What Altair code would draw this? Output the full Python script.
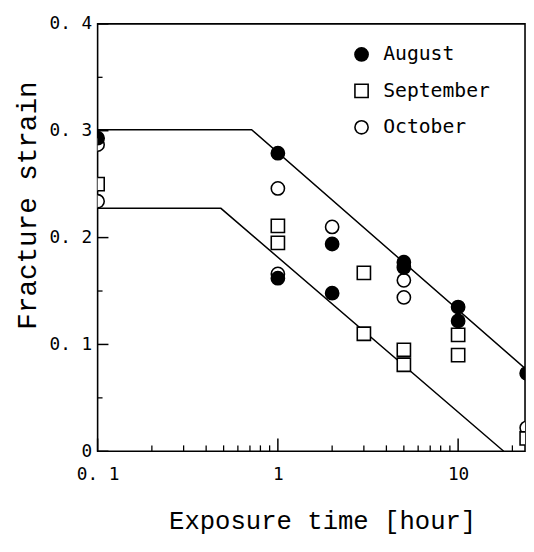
import altair as alt
import pandas as pd

# ---- data ----
aug_x = [0.1, 1, 1, 2, 2, 5, 5, 10, 10, 24]
aug_y = [0.293, 0.279, 0.162, 0.194, 0.148, 0.177, 0.172, 0.135, 0.122, 0.073]

sep_x = [0.1, 1, 1, 3, 3, 5, 5, 10, 10, 24]
sep_y = [0.250, 0.211, 0.195, 0.167, 0.110, 0.095, 0.081, 0.109, 0.090, 0.012]

oct_x = [0.1, 0.1, 1, 1, 2, 5, 5, 24]
oct_y = [0.287, 0.234, 0.246, 0.166, 0.210, 0.160, 0.144, 0.022]

months = ["August", "September", "October"]

upper_x = [0.1, 0.715, 30]
upper_y = [0.301, 0.301, 0.062]
lower_x = [0.1, 0.483, 17.9]
lower_y = [0.2274, 0.2274, 0.0]

x_tick_values = [0.1, 1, 10]
x_tick_labels = ["0. 1", "1", "10"]
x_minor = [0.2, 0.3, 0.4, 0.5, 0.6, 0.7, 0.8, 0.9, 2, 3, 4, 5, 6, 7, 8, 9, 20]
y_tick_values = [0, 0.1, 0.2, 0.3, 0.4]
y_tick_labels = ["0", "0. 1", "0. 2", "0. 3", "0. 4"]
y_minor = [0.05, 0.15, 0.25, 0.35]

X_DOMAIN = [0.1, 23.5]
Y_DOMAIN = [0, 0.4]
W, H = 434, 434

# ---- tables ----
rows = []
for m, xs, ys in [("October", oct_x, oct_y), ("September", sep_x, sep_y), ("August", aug_x, aug_y)]:
    for a, b in zip(xs, ys):
        rows.append({"t": a, "s": b, "month": m})
pts = pd.DataFrame(rows)

lines = pd.DataFrame(
    [{"t": a, "s": b, "g": "upper"} for a, b in zip(upper_x, upper_y)]
    + [{"t": a, "s": b, "g": "lower"} for a, b in zip(lower_x, lower_y)]
)


def label_expr(values, labels):
    expr = "''"
    for v, l in reversed(list(zip(values, labels))):
        expr = f"abs(datum.value - {v}) < 0.000001 ? '{l}' : ({expr})"
    return expr


xscale = alt.Scale(type="log", domain=X_DOMAIN, nice=False)
yscale = alt.Scale(domain=Y_DOMAIN, nice=False, zero=False)

TICK_FONT = "DejaVu Sans Mono"
TITLE_FONT = "Liberation Mono"

x_axis = alt.Axis(
    values=x_tick_values, labelExpr=label_expr(x_tick_values, x_tick_labels),
    ticks=False, domain=False, grid=False, labelPadding=15, labelFlush=False,
    labelFont=TICK_FONT, labelFontSize=18, labelColor="black",
    title="Exposure time [hour]", titleFont=TITLE_FONT, titleFontSize=26,
    titleFontWeight="normal", titleColor="black",
    titleX=228, titleY=78, titleAlign="center", titleBaseline="alphabetic",
)
y_axis = alt.Axis(
    values=y_tick_values, labelExpr=label_expr(y_tick_values, y_tick_labels),
    ticks=False, domain=False, grid=False, labelPadding=6,
    labelFont=TICK_FONT, labelFontSize=18, labelColor="black",
    title="Fracture strain", titleFont=TITLE_FONT, titleFontSize=28,
    titleFontWeight="normal", titleColor="black",
    titleX=-71, titleY=184, titleAngle=270, titleAlign="center", titleBaseline="middle",
)

leg = alt.Legend(title=None)
points = alt.Chart(pts).mark_point(
    filled=True, size=180, strokeWidth=1.6, opacity=1, clip=True
).encode(
    x=alt.X("t:Q", scale=xscale, axis=x_axis),
    y=alt.Y("s:Q", scale=yscale, axis=y_axis),
    shape=alt.Shape("month:N", scale=alt.Scale(domain=months, range=["circle", "square", "circle"]),
                    legend=leg),
    fill=alt.Fill("month:N", scale=alt.Scale(domain=months, range=["black", "white", "white"]),
                  legend=leg),
    stroke=alt.Stroke("month:N", scale=alt.Scale(domain=months, range=["black", "black", "black"]),
                      legend=leg),
)

line_layer = alt.Chart(lines).mark_line(color="black", strokeWidth=1.5, clip=True).encode(
    x=alt.X("t:Q", scale=xscale),
    y=alt.Y("s:Q", scale=yscale),
    detail="g:N",
)

xmaj = alt.Chart(pd.DataFrame({"t": x_tick_values})).mark_rule(color="black", strokeWidth=1.5).encode(
    x=alt.X("t:Q", scale=xscale), y=alt.value(H), y2=alt.value(H - 13))
xmin = alt.Chart(pd.DataFrame({"t": x_minor})).mark_rule(color="black", strokeWidth=1.3).encode(
    x=alt.X("t:Q", scale=xscale), y=alt.value(H), y2=alt.value(H - 6))
ymaj = alt.Chart(pd.DataFrame({"s": y_tick_values})).mark_rule(color="black", strokeWidth=1.5).encode(
    y=alt.Y("s:Q", scale=yscale), x=alt.value(0), x2=alt.value(11))
ymin = alt.Chart(pd.DataFrame({"s": y_minor})).mark_rule(color="black", strokeWidth=1.3).encode(
    y=alt.Y("s:Q", scale=yscale), x=alt.value(0), x2=alt.value(5))

chart = alt.layer(line_layer, xmaj, xmin, ymaj, ymin, points).properties(
    width=W, height=H,
    background="white",
    autosize=alt.AutoSizeParams(type="none"),
    padding={"left": 91, "top": 12, "right": 1, "bottom": 90},
).configure_view(
    stroke="black", strokeWidth=1.6
).configure_legend(
    orient="none", legendX=258, legendY=21, padding=0,
    labelFont=TICK_FONT, labelFontSize=20, labelColor="black", labelOffset=12,
    symbolSize=180, symbolStrokeWidth=1.6,
    rowPadding=17, labelLimit=300,
)

chart.save("out.html", embed_options={"renderer": "svg", "actions": False})
